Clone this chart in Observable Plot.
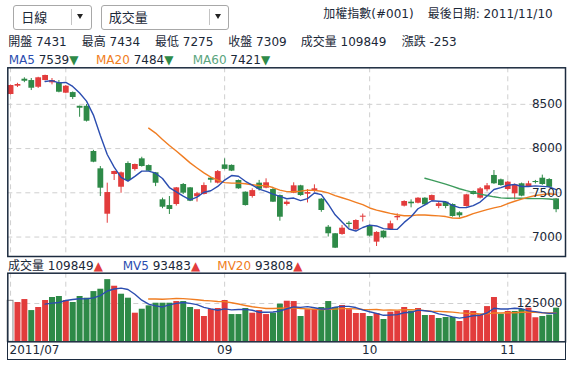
<!DOCTYPE html>
<html><head><meta charset="utf-8">
<script src="https://cdn.jsdelivr.net/npm/d3@7"></script>
<script src="https://cdn.jsdelivr.net/npm/@observablehq/plot@0.6"></script>
<style>
body{margin:0;width:575px;height:367px;position:relative;background:#fff;overflow:hidden;
 font-family:"DejaVu Sans","Noto Sans CJK TC",sans-serif;font-size:12px;color:#1b2838}
.abs{position:absolute;white-space:nowrap;line-height:14px;z-index:3}
.sel{position:absolute;border:1px solid #a8a8a8;border-radius:3px;box-sizing:border-box;background:#fff;font-size:13px;z-index:3}
.sel .t{position:absolute;top:4px;line-height:15px}
.sel .sep{position:absolute;top:3px;width:1px;height:16px;background:#c4c4c4}
.sel .ar{position:absolute;top:8px;width:0;height:0;border-left:3.5px solid transparent;border-right:3.5px solid transparent;border-top:5px solid #222}
.chart{position:absolute;left:0}
#volbox{position:absolute;left:6.55px;top:341.3px;width:559.2px;height:18.75px;box-sizing:border-box;border:1.5px solid #1c2b3f;border-top:none;z-index:2}
</style></head>
<body>
<div class="sel" style="left:12.7px;top:5px;width:79px;height:24.5px"><span class="t" style="left:7.5px">日線</span><span class="sep" style="left:57.5px"></span><span class="ar" style="left:63.5px"></span></div>
<div class="sel" style="left:100.7px;top:5px;width:128.6px;height:24.5px"><span class="t" style="left:7px">成交量</span><span class="sep" style="left:107px"></span><span class="ar" style="left:113.5px"></span></div>
<div id="title" class="abs" style="top:7px;left:323.3px"></div>
<div id="hdr"></div>
<div id="price" class="chart" style="top:66px"></div>
<div id="vol" class="chart" style="top:268px"></div>
<div id="volbox"></div>
<script>
// ---- data ----
const title = ["加權指數(#001)", "最後日期: 2011/11/10"];
const headerLabels = ["開盤","最高","最低","收盤","成交量","漲跌"];
const headerValues = ["7431","7434","7275","7309","109849","-253"];
const maLabels = ["MA5","MA20","MA60"];
const maValues = [7539, 7484, 7421];
const mvLabels = ["成交量","MV5","MV20"];
const mvValues = [109849, 93483, 93808];
const monthIdx = [0, 8, 31, 52, 72];
const monthLabels = ["2011/07", "08", "09", "10", "11"];
const priceTicks = [7000, 7500, 8000, 8500];
const volTicks = [125000];

const open = [8611,8705,8784,8769,8693,8769,8743,8743,8626,8633, 8478,8478,7967,7771,7258,7707,7563,7831,7763,7884,
 7808,7726,7421,7356,7368,7594,7556,7455,7481,7665, 7609,7815,7810,7639,7507,7458,7609,7552,7537,7469,
 7368,7495,7579,7484,7518,7428,7111,7037,7029,7156, 7082,7224,7130,6942,7066,7082,7217,7349,7394,7382,
 7439,7413,7345,7394,7368,7274,7345,7515,7439,7534, 7696,7647,7537,7489,7602,7571,7628,7665,7650,7431];
const high = [8718,8738,8800,8792,8806,8830,8792,8769,8712,8640, 8480,8498,7980,7797,7609,7745,7735,7850,7825,7902,
 7815,7730,7440,7458,7560,7605,7560,7505,7612,7675, 7752,7884,7815,7645,7510,7545,7640,7658,7560,7475,
 7410,7613,7585,7537,7590,7435,7130,7040,7130,7175, 7195,7260,7135,7060,7070,7180,7262,7410,7420,7445,
 7445,7475,7395,7400,7375,7285,7482,7520,7560,7605, 7752,7655,7630,7600,7610,7630,7640,7700,7660,7434];
const low = [8606,8690,8745,8656,8680,8765,8720,8630,8620,8554, 8354,8300,7840,7458,7156,7639,7495,7625,7745,7790,
 7740,7570,7320,7255,7350,7480,7400,7395,7475,7610, 7600,7760,7740,7540,7350,7440,7520,7545,7390,7179,
 7350,7490,7460,7385,7505,7280,7000,6870,7020,7100, 7075,7170,7000,6893,6980,7075,7185,7340,7330,7375,
 7355,7405,7320,7320,7225,7215,7340,7475,7430,7510, 7595,7575,7520,7420,7455,7565,7600,7585,7555,7275];
const close = [8713,8724,8761,8682,8800,8826,8769,8637,8705,8577, 8456,8309,7846,7552,7503,7741,7726,7639,7820,7797,
 7744,7608,7337,7311,7556,7496,7405,7490,7582,7642, 7740,7765,7745,7545,7356,7525,7540,7613,7394,7224,
 7394,7579,7469,7503,7545,7300,7037,6874,7100,7142, 7187,7236,7010,7052,6991,7150,7232,7402,7376,7439,
 7364,7469,7376,7345,7232,7240,7477,7481,7545,7579, 7602,7582,7620,7590,7462,7602,7616,7594,7562,7309];
const volume = [133800,128300,138000,102000,112000,134800,144600,147900,134800,128300,
 147900,142400,164000,171700,203000,181500,155400,142400,93400,106400,
 117400,126000,126000,126000,131500,131500,112000,105000,82600,106000,
 108700,134800,89000,89000,108700,93400,102000,89000,93400,122800,
 132500,131500,82600,105000,105000,112000,131500,112000,118500,105000,
 92400,92400,82600,92400,72800,96700,100000,112000,100000,108700,
 85800,85800,76000,79300,79300,66300,102000,98900,88000,115000,
 144600,90000,98900,98900,106400,110000,78500,82600,86900,109849];

// ---- styles ----
const RED = "#e23c3c", GREEN = "#2e8a48", BLUE = "#2b4db0", ORANGE = "#f07d22", MAGREEN = "#3d9b5c";
const TXT = "#1b2838", FRAME = "#1c2b3f", GRID = "#cfcfcf";
const FONT = '"DejaVu Sans","Noto Sans CJK TC",sans-serif';

const data = open.map((o, i) => ({i, o, h: high[i], l: low[i], c: close[i], v: volume[i]}));
const candleColor = d => d.c >= d.o ? RED : GREEN;
const volColor = d => d.i === 0 ? "none" : (d.c >= data[d.i - 1].c ? RED : GREEN);
const monthName = i => monthLabels[monthIdx.indexOf(i)];
const plain = d => String(d);

// ---- html texts ----
document.getElementById("title").innerHTML = title[0] + '<span style="margin-left:14px">' + title[1] + '</span>';
const hdr = document.getElementById("hdr");
const hx = [8.3, 81.7, 155, 228.3, 300.7, 401.7];
headerLabels.forEach((l, k) => {
  hdr.insertAdjacentHTML("beforeend", `<div class="abs" style="top:35.3px;left:${hx[k]}px">${l} ${headerValues[k]}</div>`);
});
const mx = [8.7, 96, 192.7], mcol = [BLUE, ORANGE, "#5aa57e"];
maLabels.forEach((l, k) => {
  hdr.insertAdjacentHTML("beforeend", `<div class="abs" style="top:53px;left:${mx[k]}px"><span style="color:${mcol[k]}">${l}</span> ${maValues[k]}<span style="color:${GREEN}">▼</span></div>`);
});
const vx = [8, 122.7, 217.3], vcol = [TXT, BLUE, ORANGE];
mvLabels.forEach((l, k) => {
  hdr.insertAdjacentHTML("beforeend", `<div class="abs" style="top:258.7px;left:${vx[k]}px"><span style="color:${vcol[k]}">${l}</span> ${mvValues[k]}<span style="color:${RED}">▲</span></div>`);
});

// ---- charts ----
const xDomain = [-0.4, 80.36];
const dash = {stroke: GRID, strokeOpacity: 1, strokeDasharray: "5,4"};
const ma = (k, field, stroke) => Plot.line(data, Plot.filter(d => d.i >= k,
  Plot.windowY({k, anchor: "end"}, {x: "i", y: field, stroke, strokeWidth: 1.4})));
const style = {fontFamily: FONT, fontSize: "12px", color: TXT, background: "transparent", overflow: "visible"};

const price = Plot.plot({
  width: 575, height: 192, marginTop: 1.3, marginBottom: 2, marginLeft: 7.3, marginRight: 10,
  style,
  x: {type: "linear", domain: xDomain, axis: null},
  y: {type: "linear", domain: [6780, 8913]},
  color: {type: "identity"},
  marks: [
    Plot.gridY(priceTicks, dash),
    Plot.gridX(monthIdx, dash),
    Plot.ruleX(data, {x: "i", y1: "l", y2: "h", stroke: candleColor, strokeWidth: 1}),
    Plot.ruleX(data, {x: "i", y1: "o", y2: "c", stroke: candleColor, strokeWidth: 5.8}),
    ma(60, "c", MAGREEN),
    ma(20, "c", ORANGE),
    ma(5, "c", BLUE),
    Plot.axisY(priceTicks, {anchor: "right", tickSize: 0, tickPadding: 0, textAnchor: "end", dx: -3, label: null, fontSize: 12, tickFormat: plain}),
    Plot.frame({stroke: FRAME, strokeWidth: 1.5})
  ]
});
document.getElementById("price").append(price);

const vol = Plot.plot({
  width: 575, height: 95, marginTop: 4.7, marginBottom: 21.7, marginLeft: 7.3, marginRight: 10,
  style,
  x: {type: "linear", domain: xDomain},
  y: {type: "linear", domain: [0, 224000]},
  color: {type: "identity"},
  marks: [
    Plot.gridY(volTicks, dash),
    Plot.gridX(monthIdx, dash),
    Plot.ruleX(data.filter(d => d.i > 0), {x: "i", y1: 0, y2: "v", stroke: volColor, strokeWidth: 6}),
    Plot.rect(data.filter(d => d.i === 0), {x1: d => d.i - 0.42, x2: d => d.i + 0.42, y1: 0, y2: "v", stroke: "#8a8a8a", fill: "white", strokeWidth: 1}),
    ma(20, "v", ORANGE),
    ma(5, "v", BLUE),
    Plot.axisY(volTicks, {anchor: "right", tickSize: 0, tickPadding: 0, textAnchor: "end", dx: -3, label: null, fontSize: 12, tickFormat: plain}),
    Plot.axisX([monthIdx[0]], {anchor: "bottom", tickSize: 0, tickPadding: 4, textAnchor: "start", dx: -1, label: null, fontSize: 12, tickFormat: monthName}),
    Plot.axisX(monthIdx.slice(2), {anchor: "bottom", tickSize: 0, tickPadding: 4, label: null, fontSize: 12, tickFormat: monthName}),
    Plot.frame({stroke: FRAME, strokeWidth: 1.5})
  ]
});
document.getElementById("vol").append(vol);
</script>
</body></html>
